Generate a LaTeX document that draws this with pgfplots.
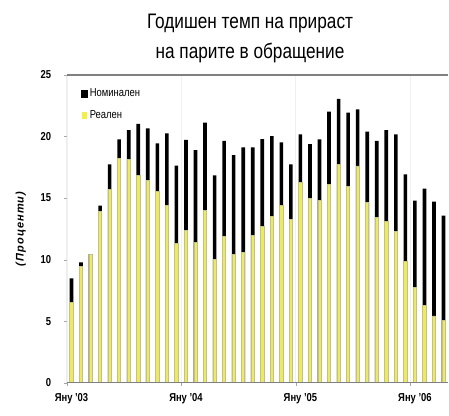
\documentclass[border=0pt]{standalone}
\usepackage{pgfplots}
\usepackage{pgfplotstable}
\pgfplotsset{compat=1.18}
\usepackage{fontspec}
\setmainfont{Liberation Sans}[FakeStretch=0.82]
\newfontfamily\ylabfont{Liberation Sans}[LetterSpace=10]
\definecolor{yel}{RGB}{236,234,100}
\definecolor{yeledge}{RGB}{196,194,130}
\pgfplotstableread{
x nom real
0.5 8.48 6.50
1.5 9.78 9.43
2.5 10.45 10.45
3.5 14.38 13.90
4.5 17.74 15.71
5.5 19.77 18.20
6.5 20.53 18.15
7.5 21.02 16.87
8.5 20.67 16.41
9.5 19.45 15.57
10.5 20.26 14.41
11.5 17.63 11.32
12.5 19.72 12.40
13.5 18.90 11.43
14.5 21.13 14.03
15.5 16.85 10.02
16.5 19.64 11.86
17.5 18.50 10.45
18.5 19.12 10.56
19.5 19.12 12.00
20.5 19.80 12.68
21.5 20.04 13.49
22.5 19.53 14.38
23.5 17.74 13.27
24.5 20.18 16.25
25.5 19.39 14.98
26.5 19.77 14.84
27.5 22.02 16.12
28.5 23.05 17.74
29.5 21.94 15.98
30.5 22.21 17.61
31.5 20.40 14.63
32.5 19.64 13.41
33.5 20.53 13.08
34.5 20.18 12.32
35.5 16.93 9.83
36.5 14.79 7.72
37.5 15.76 6.31
38.5 14.71 5.42
39.5 13.57 5.09
}\data
\begin{document}
\begin{tikzpicture}
\useasboundingbox (0,0) rectangle (449pt,415pt);
\node[font=\fontsize{21}{30}\selectfont, align=center] at (250pt,377pt) {Годишен темп на прираст\\на парите в обращение};
\begin{axis}[
  at={(66.7pt,32.3pt)}, anchor=south west, scale only axis,
  width=381.6pt, height=307.7pt,
  xmin=0, xmax=40, ymin=0, ymax=25,
  ytick={0,5,...,25},
  xtick={0,12,24,36},
  xticklabels={Яну '03,Яну '04,Яну '05,Яну '06},
  xticklabel style={xshift=4.8pt, yshift=-4pt, font=\fontsize{11.5}{13}\selectfont\bfseries},
  yticklabel style={xshift=-9pt, font=\fontsize{11.5}{13}\selectfont\bfseries},
  /pgf/number format/assume math mode=true,
  xtick pos=lower, ytick pos=left,
  tick align=outside, major tick length=3pt,
  tick style={draw=gray!70},
  xmajorgrids, major grid style={draw=gray!12},
  axis line style={draw=none},
  ylabel={(Проценти)},
  ylabel style={font=\ylabfont\fontsize{11}{12}\selectfont\bfseries\itshape, yshift=8pt},
  legend style={at={(0.035,0.965)}, anchor=north west, draw=none, fill=none,
     font=\fontsize{11.5}{13}\selectfont, row sep=8pt, inner sep=1pt},
  legend cell align=left,
]
\addplot[ybar, bar width=0.38, bar shift=0pt, fill=black, draw=none,
  legend image code/.code={\fill[black] (0pt,-4pt) rectangle (6.5pt,4pt);}]
  table[x=x,y=nom]{\data};
\addlegendentry{Номинален}
\addplot[ybar, bar width=0.34, bar shift=0pt, fill=yel, draw=yeledge, line width=0.7pt,
  legend image code/.code={\fill[yel!70!yellow] (1.5pt,-3pt) rectangle (5.5pt,3pt);}]
  table[x=x,y=real]{\data};
\addlegendentry{Реален}
\draw[gray, line width=1.3pt] (rel axis cs:0,1) -- (rel axis cs:1,1);
\draw[gray, line width=0.8pt] (rel axis cs:0,0) -- (rel axis cs:1,0);
\draw[gray!40, line width=0.5pt] (rel axis cs:0,0) -- (rel axis cs:0,1);
\end{axis}
\end{tikzpicture}
\end{document}
